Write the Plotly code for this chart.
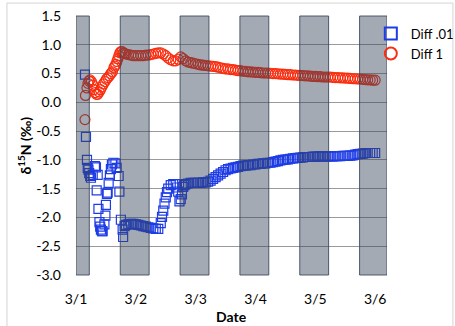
import pandas as pd
import plotly.graph_objects as go

BASE = pd.Timestamp("2013-03-01")

# ---- Diff .01 (open blue squares): hours after 3/1 00:00 and delta-15N values (permil)
diff01_early_hours = [3.6, 4.0, 4.4, 4.7, 5.0, 5.3, 5.7, 6.0, 6.7, 7.6, 8.0, 8.3, 8.7, 9.0,
                      9.4, 9.7, 10.0, 10.4, 10.7, 11.4, 11.8, 12.0, 12.4, 12.7, 13.1, 13.6,
                      14.0, 14.4, 15.0, 15.8, 16.3, 17.1, 17.4, 18.0, 18.7, 18.9, 19.5]
diff01_early_vals = [0.48, -0.60, -1.00, -1.14, -1.17, -1.23, -1.28, -1.31, -1.26, -1.11, -1.13,
                     -1.53, -1.26, -1.85, -2.08, -2.16, -2.21, -2.24, -2.24, -2.12, -1.97, -1.78,
                     -1.59, -1.57, -1.40, -1.27, -1.16, -1.08, -1.05, -1.06, -1.14, -1.28, -1.55,
                     -2.04, -2.21, -2.34, -2.15]
diff01_extra_hours = [34.5, 35.5, 36.5, 40.5, 41.5, 42.5, 43.5]
diff01_extra_vals = [-1.99, -1.76, -1.56, -1.48, -1.72, -1.60, -1.44]
hourly_hours = list(range(20, 121))
diff01_hourly_vals = [
    -2.13, -2.12, -2.11, -2.11, -2.12, -2.13, -2.14, -2.15, -2.16, -2.17,
    -2.18, -2.19, -2.20, -2.20, -2.10, -1.88, -1.65, -1.50, -1.44, -1.42,
    -1.42, -1.55, -1.68, -1.47, -1.42, -1.41, -1.40, -1.40, -1.40, -1.40,
    -1.40, -1.39, -1.39, -1.38, -1.36, -1.33, -1.30, -1.27, -1.24, -1.21,
    -1.18, -1.16, -1.15, -1.14, -1.13, -1.12, -1.11, -1.10, -1.10, -1.09,
    -1.09, -1.08, -1.08, -1.07, -1.07, -1.06, -1.06, -1.05, -1.05, -1.04,
    -1.03, -1.02, -1.01, -1.00, -0.995, -0.99, -0.98, -0.975, -0.97, -0.965,
    -0.96, -0.955, -0.95, -0.95, -0.95, -0.945, -0.945, -0.945, -0.94, -0.94,
    -0.94, -0.94, -0.94, -0.94, -0.935, -0.935, -0.935, -0.93, -0.93, -0.93,
    -0.925, -0.92, -0.91, -0.90, -0.895, -0.89, -0.885, -0.88, -0.88, -0.88,
    -0.88]

# ---- Diff 1 (open red circles)
diff1_early_hours = [3.6, 3.8, 4.4, 4.8, 5.2, 5.6, 6.2, 6.8, 7.2, 7.7, 8.2, 8.7, 9.3, 9.8,
                     10.4, 11.0, 11.6, 12.2, 12.8, 13.4, 14.0, 14.6, 15.2, 15.6, 16.0, 16.4,
                     16.8, 17.2, 17.6, 18.0, 18.5, 19.0, 19.5]
diff1_early_vals = [-0.30, 0.12, 0.25, 0.33, 0.37, 0.39, 0.36, 0.30, 0.22, 0.17, 0.14, 0.14,
                    0.18, 0.22, 0.27, 0.32, 0.36, 0.40, 0.43, 0.46, 0.50, 0.53, 0.60, 0.63,
                    0.66, 0.71, 0.76, 0.81, 0.86, 0.88, 0.88, 0.86, 0.85]
diff1_hourly_vals = [
    0.84, 0.83, 0.82, 0.81, 0.81, 0.81, 0.81, 0.81, 0.82, 0.82,
    0.83, 0.84, 0.85, 0.86, 0.86, 0.84, 0.81, 0.77, 0.74, 0.72,
    0.72, 0.75, 0.79, 0.76, 0.72, 0.70, 0.69, 0.68, 0.67, 0.66,
    0.65, 0.645, 0.64, 0.635, 0.63, 0.625, 0.62, 0.61, 0.60, 0.59,
    0.58, 0.58, 0.57, 0.57, 0.56, 0.55, 0.55, 0.54, 0.54, 0.53,
    0.53, 0.525, 0.52, 0.52, 0.515, 0.51, 0.51, 0.51, 0.505, 0.50,
    0.50, 0.495, 0.49, 0.49, 0.485, 0.48, 0.48, 0.475, 0.475, 0.47,
    0.47, 0.465, 0.46, 0.46, 0.455, 0.45, 0.45, 0.445, 0.445, 0.44,
    0.44, 0.44, 0.44, 0.435, 0.43, 0.43, 0.425, 0.425, 0.42, 0.42,
    0.415, 0.41, 0.41, 0.405, 0.405, 0.40, 0.395, 0.39, 0.39, 0.385,
    0.385]

# ---- Dark periods (shaded columns)
night_start = ["2013-03-01 00:00", "2013-03-01 17:45", "2013-03-02 17:45",
               "2013-03-03 17:45", "2013-03-04 17:45", "2013-03-05 17:45"]
night_end = ["2013-03-01 05:20", "2013-03-02 05:20", "2013-03-03 05:20",
             "2013-03-04 05:20", "2013-03-05 05:20", "2013-03-06 04:45"]

day_ticks = ["2013-03-01", "2013-03-02", "2013-03-03", "2013-03-04", "2013-03-05", "2013-03-06"]
day_labels = ["3/1", "3/2", "3/3", "3/4", "3/5", "3/6"]
y_ticks = [1.5, 1.0, 0.5, 0.0, -0.5, -1.0, -1.5, -2.0, -2.5, -3.0]
y_labels = ["1.5", "1.0", "0.5", "0.0", "-0.5", "-1.0", "-1.5", "-2.0", "-2.5", "-3.0"]


def to_time(hours):
    return BASE + pd.to_timedelta(pd.Series(hours, dtype=float), unit="h")


FONT = "Lato"
BLUE = "rgb(30,60,230)"
RED = "rgb(250,45,15)"

fig = go.Figure()
fig.add_trace(go.Scatter(
    x=to_time(diff01_early_hours + diff01_extra_hours + hourly_hours),
    y=diff01_early_vals + diff01_extra_vals + diff01_hourly_vals,
    mode="markers", name="Diff .01",
    marker=dict(symbol="square-open", size=9, color=BLUE, line=dict(width=1.2)),
))
fig.add_trace(go.Scatter(
    x=to_time(diff1_early_hours + hourly_hours),
    y=diff1_early_vals + diff1_hourly_vals,
    mode="markers", name="Diff 1",
    marker=dict(symbol="circle-open", size=10, color=RED, line=dict(width=1.2)),
))

shapes = []
for s, e in zip(night_start, night_end):
    shapes.append(dict(type="rect", xref="x", yref="paper", x0=s, x1=e, y0=0, y1=1,
                       fillcolor="rgba(51,66,88,0.45)",
                       line=dict(color="rgba(55,68,90,0.85)", width=1), layer="above"))
# outer chart frame
shapes.append(dict(type="rect", xref="paper", yref="paper", x0=-0.222, x1=1.212,
                   y0=-0.25, y1=1.05, line=dict(color="#d4d4d4", width=1),
                   fillcolor="rgba(0,0,0,0)", layer="below"))

fig.update_layout(
    width=455, height=326,
    margin=dict(l=76, r=68, t=16, b=51, autoexpand=False),
    paper_bgcolor="white", plot_bgcolor="white",
    font=dict(family=FONT, size=13, color="black"),
    shapes=shapes,
    showlegend=True,
    legend=dict(x=0.948, y=0.99, xanchor="left", yanchor="top",
                font=dict(family=FONT, size=13), bgcolor="rgba(0,0,0,0)",
                itemsizing="constant", tracegroupgap=0),
    xaxis=dict(type="date", range=["2013-03-01 00:00", "2013-03-06 04:45"],
               tickvals=day_ticks, ticktext=day_labels, showgrid=False,
               zeroline=False, showline=False, ticks="", ticklabelstandoff=14,
               tickfont=dict(size=14)),
    xaxis2=dict(type="date", matches="x", overlaying="x", anchor="free",
                position=2 / 3, side="bottom", tickvals=day_ticks,
                showticklabels=False, showgrid=False, zeroline=False,
                showline=True, linecolor="#8c8c8c", linewidth=1,
                ticks="outside", ticklen=4, tickcolor="#8c8c8c"),
    yaxis=dict(range=[-3.0, 1.5], tickvals=y_ticks, ticktext=y_labels,
               showgrid=True, gridcolor="#9a9a9a", gridwidth=1,
               zeroline=False, showline=False, ticks="", ticklabelstandoff=14,
               tickfont=dict(size=14)),
    annotations=[
        dict(text="<b>δ<sup>15</sup>N (‰)</b>", xref="paper", yref="paper",
             x=-0.164, y=0.5, textangle=-90, showarrow=False,
             xanchor="center", yanchor="middle", font=dict(size=14)),
        dict(text="<b>Date</b>", xref="paper", yref="paper", x=0.5, y=-0.162,
             showarrow=False, xanchor="center", yanchor="middle", font=dict(size=14)),
    ],
)

fig.write_html("out.html")
